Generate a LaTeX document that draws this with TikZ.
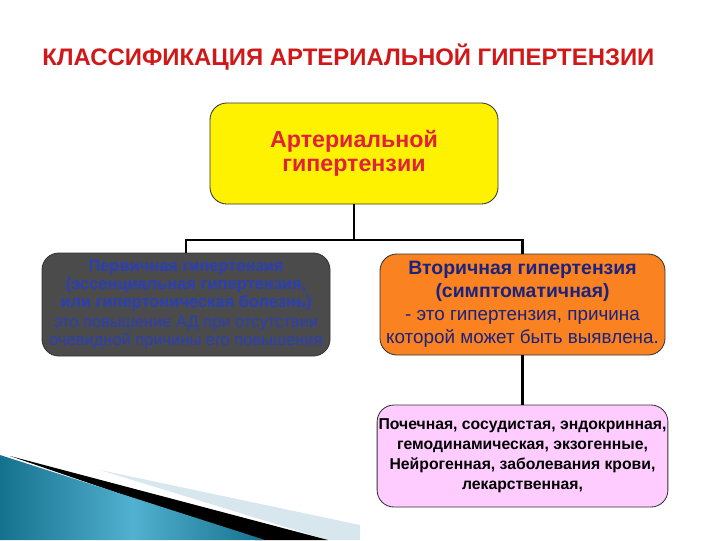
\documentclass[tikz,border=0pt]{standalone}
\usepackage{fontspec}
\setmainfont{Liberation Sans}
\usetikzlibrary{shadings}
\definecolor{titlered}{HTML}{D01818}
\definecolor{boxred}{HTML}{E0203C}
\definecolor{navy}{HTML}{1A237E}
\definecolor{lblue}{HTML}{2A3FB8}
\definecolor{dgray}{HTML}{4B4B4B}
\definecolor{orng}{HTML}{FA8220}
\definecolor{pnk}{HTML}{FFCCFF}
\definecolor{tealdark}{HTML}{14728E}
\definecolor{teallight}{HTML}{52B0D0}
\definecolor{paleband}{HTML}{D8E6EE}
\begin{document}
\begin{tikzpicture}[x=0.025cm,y=-0.025cm,
  boxstyle/.style={draw=black!80,line width=0.6pt,rounded corners=0.42cm,align=center,inner sep=1pt},
  conn/.style={draw=black,line width=1.5pt}]
\useasboundingbox (0,0) rectangle (720,540);
% decoration bottom left
\fill[paleband] (100,470) -- (360,525) -- (360,540) -- (328,540) -- cycle;
\fill[black] (10,456) -- (328,540) -- (255,540) -- cycle;
\shade[left color=tealdark,right color=tealdark,middle color=teallight] (0,455) -- (265,540) -- (0,540) -- cycle;
% title
\node[text=titlered,font=\fontsize{17pt}{19pt}\selectfont\bfseries,anchor=west,inner sep=0pt] (title) at (42,57) {КЛАССИФИКАЦИЯ АРТЕРИАЛЬНОЙ ГИПЕРТЕНЗИИ};
% boxes
\node[boxstyle,fill=yellow,minimum width=288*0.025cm,minimum height=101*0.025cm,text=boxred,font=\fontsize{16.5pt}{17pt}\selectfont\bfseries] (top) at (354,153.5) {Артериальной\\гипертензии};
\node[boxstyle,fill=dgray,minimum width=288*0.025cm,minimum height=103*0.025cm,text=lblue,font=\fontsize{11.7pt}{12.8pt}\selectfont] (left) at (186,304.5) {\textbf{Первичная гипертензия}\\\textbf{(эссенциальная гипертензия,}\\\textbf{или гипертоническая болезнь)}\\[1pt]это повышение АД при отсутствии\\очевидной причины его повышения};
\node[boxstyle,fill=orng,minimum width=285*0.025cm,minimum height=101*0.025cm,text=navy,font=\fontsize{13.8pt}{16.4pt}\selectfont] (right) at (522.5,304.5) {\textbf{Вторичная гипертензия}\\\textbf{(симптоматичная)}\\{\fontsize{13.4pt}{16.4pt}\selectfont - это гипертензия, причина}\\{\fontsize{13.4pt}{16.4pt}\selectfont которой может быть выявлена.}};
\node[boxstyle,fill=pnk,minimum width=289*0.025cm,minimum height=102*0.025cm,text=black,font=\fontsize{11.2pt}{14.2pt}\selectfont\bfseries] (pink) at (522.5,456) {Почечная, сосудистая, эндокринная,\\гемодинамическая, экзогенные,\\Нейрогенная, заболевания крови,\\лекарственная,};
% connectors
\coordinate (j) at (354,240);
\draw[conn] (top.south) -- (j);
\draw[conn] (left.north) |- (j) -| (right.north);
\draw[conn] (right.south) -- (pink.north);
\end{tikzpicture}
\end{document}
